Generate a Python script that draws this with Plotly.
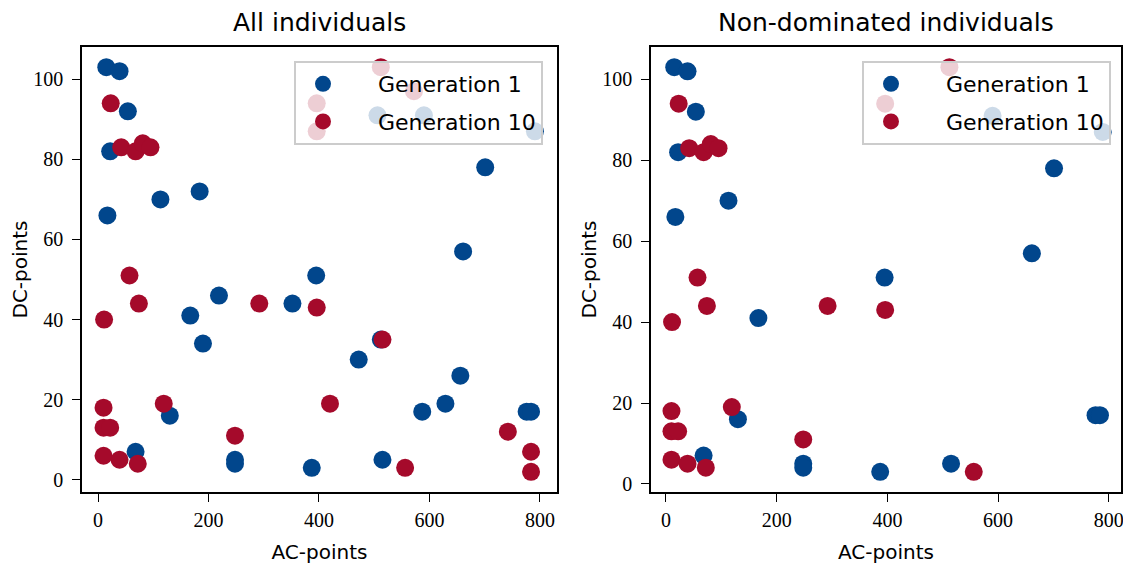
import plotly.graph_objects as go

# ---- data: all individuals ----
g1_ac = [15, 39, 54, 22, 184, 113, 17, 506, 590, 791, 701, 661, 219, 167, 190, 352, 395, 512,
         472, 656, 587, 629, 776, 784, 130, 68, 248, 248, 387, 515]
g1_dc = [103, 102, 92, 82, 72, 70, 66, 91, 91, 87, 78, 57, 46, 41, 34, 44, 51, 35,
         30, 26, 17, 19, 17, 17, 16, 7, 5, 4, 3, 5]
g10_ac = [23, 42, 68, 81, 95, 512, 572, 396, 396, 57, 74, 11, 292, 396, 515, 10, 10, 22,
          119, 10, 39, 72, 248, 420, 742, 784, 784, 556]
g10_dc = [94, 83, 82, 84, 83, 103, 97, 94, 87, 51, 44, 40, 44, 43, 35, 18, 13, 13,
          19, 6, 5, 4, 11, 19, 12, 7, 2, 3]

# ---- data: non-dominated individuals ----
nd1_ac = [15, 39, 54, 22, 113, 17, 590, 789, 701, 661, 167, 395, 776, 784, 130, 68, 248, 248, 387, 515]
nd1_dc = [103, 102, 92, 82, 70, 66, 91, 87, 78, 57, 41, 51, 17, 17, 16, 7, 5, 4, 3, 5]
nd10_ac = [23, 42, 68, 81, 95, 512, 396, 57, 74, 11, 292, 396, 10, 10, 22, 119, 10, 39, 72, 248, 556]
nd10_dc = [94, 83, 82, 84, 83, 103, 94, 51, 44, 40, 44, 43, 18, 13, 13, 19, 6, 5, 4, 11, 3]

titles = ["All individuals", "Non-dominated individuals"]
names = ["Generation 1", "Generation 10"]
BLUE = "#01468c"
RED = "#a50a2b"
W, H = 1131, 572
OFF = 8  # browser body margin


def fx(sx):
    return (sx - OFF) / W


def fy(sy):
    return 1 - (sy - OFF) / H


fig = go.Figure()


def add(x, y, name, color, xa, ya, legend):
    fig.add_trace(go.Scatter(
        x=x, y=y, mode="markers", name="\u00a0\u00a0\u00a0\u00a0" + name,
        marker=dict(size=18, color=color, line=dict(width=0)),
        xaxis=xa, yaxis=ya, legend=legend, legendgroup=name + legend,
        showlegend=True))


add(g1_ac, g1_dc, names[0], BLUE, "x", "y", "legend")
add(g10_ac, g10_dc, names[1], RED, "x", "y", "legend")
add(nd1_ac, nd1_dc, names[0], BLUE, "x2", "y2", "legend2")
add(nd10_ac, nd10_dc, names[1], RED, "x2", "y2", "legend2")

tickfont = dict(family="Liberation Serif", size=20, color="black")
labfont = dict(family="DejaVu Sans", size=20, color="black")


def xax(domain, rng, anchor):
    return dict(domain=domain, range=rng, anchor=anchor, showgrid=False, zeroline=False,
                showline=True, linecolor="black", linewidth=1.5, mirror=True,
                ticks="outside", ticklen=8, tickwidth=1.3, tickcolor="black",
                tickvals=[0, 200, 400, 600, 800], tickfont=tickfont, ticklabelstandoff=1,
                title=dict(text="AC-points", font=labfont, standoff=15), automargin=False)


def yax(domain, rng, anchor):
    return dict(domain=domain, range=rng, anchor=anchor, showgrid=False, zeroline=False,
                showline=True, linecolor="black", linewidth=1.5, mirror=True,
                ticks="outside", ticklen=8, tickwidth=1.3, tickcolor="black",
                tickvals=[0, 20, 40, 60, 80, 100], tickfont=tickfont, ticklabelstandoff=5,
                title=dict(text="DC-points", font=labfont, standoff=0), automargin=False)


ydom = [fy(492), fy(47)]
legfont = dict(family="DejaVu Sans", size=22, color="black")


def leg(xr):
    return dict(x=fx(xr), y=fy(61), xanchor="right", yanchor="top",
                bgcolor="rgba(255,255,255,0.8)", bordercolor="#cccccc", borderwidth=2,
                font=legfont, itemwidth=44, tracegroupgap=6)


fig.update_layout(
    width=W, height=H, margin=dict(l=0, r=0, t=0, b=0),
    paper_bgcolor="white", plot_bgcolor="white",
    xaxis=xax([fx(82), fx(557)], [-29, 831], "y"),
    yaxis=yax(ydom, [-3.05, 108.05], "x"),
    xaxis2=xax([fx(651), fx(1121)], [-27, 822], "y2"),
    yaxis2=yax(ydom, [-2, 108], "x2"),
    legend=leg(543),
    legend2=leg(1111),
    annotations=[
        dict(text=titles[0], x=fx(319.5), y=fy(22), xref="paper", yref="paper",
             showarrow=False, xanchor="center", yanchor="middle",
             font=dict(family="DejaVu Sans", size=25, color="black")),
        dict(text=titles[1], x=fx(886), y=fy(22), xref="paper", yref="paper",
             showarrow=False, xanchor="center", yanchor="middle",
             font=dict(family="DejaVu Sans", size=25, color="black")),
    ],
)

fig.write_html("out.html")
